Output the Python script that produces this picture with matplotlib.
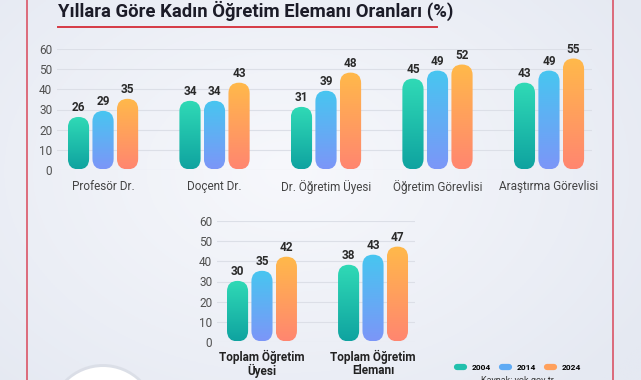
import numpy as np
import matplotlib
matplotlib.use("Agg")
import matplotlib.pyplot as plt
from matplotlib.patches import FancyBboxPatch, Circle
from matplotlib.lines import Line2D
from matplotlib.colors import to_rgb

plt.rcParams['font.family'] = ['Roboto', 'DejaVu Sans']

# data
years = ["2004", "2014", "2024"]
top_cats = ["Profesör Dr.", "Doçent Dr.", "Dr. Öğretim Üyesi", "Öğretim Görevlisi", "Araştırma Görevlisi"]
top_2004 = [26, 34, 31, 45, 43]
top_2014 = [29, 34, 39, 49, 49]
top_2024 = [35, 43, 48, 52, 55]
bot_cats = ["Toplam Öğretim\nÜyesi", "Toplam Öğretim\nElemanı"]
bot_2004 = [30, 38]
bot_2014 = [35, 43]
bot_2024 = [42, 47]
yticks = [0, 10, 20, 30, 40, 50, 60]

# gradient colours (bottom, top) per year
grads = [("#0fa3a0", "#30dab6"), ("#7c96f8", "#47c6f0"), ("#ff8670", "#ffb94a")]
legend_cols = ["#22c0ad", "#5eaaf4", "#ffa05c"]

W, H = 641, 380
fig = plt.figure(figsize=(W / 100, H / 100), dpi=100)

# background, in pixel coordinates
bg = fig.add_axes([0, 0, 1, 1], zorder=-10)
yy, xx = np.mgrid[0:1:200j, 0:1:340j]
d = np.sqrt(((xx - 0.45) * 1.2) ** 2 + ((yy - 0.45) * 1.0) ** 2)
d = np.clip(d / 0.8, 0, 1)
c_in = np.array(to_rgb("#f7f8fc"))
c_out = np.array(to_rgb("#e5e9f2"))
img = c_in[None, None, :] * (1 - d[..., None]) + c_out[None, None, :] * d[..., None]
bg.imshow(img, extent=[0, W, H, 0], aspect='auto')
bg.set_xlim(0, W)
bg.set_ylim(H, 0)
bg.axis('off')

# white circle bottom-left
bg.add_patch(Circle((103, 418), 54, facecolor="#cfd3dc", edgecolor='none', alpha=0.5))
bg.add_patch(Circle((103, 419), 52, facecolor="white", edgecolor='none'))


def grad_img(c0, c1):
    a = np.array(to_rgb(c0))
    b = np.array(to_rgb(c1))
    t = np.linspace(0, 1, 128)[:, None, None]
    return a * (1 - t) + b * t


def pill_bars(ax, n, series, xlim):
    x = np.arange(n)
    off = 0.22
    w = 0.19
    ax.set_xlim(*xlim)
    ax.set_ylim(0, 60)
    fig.canvas.draw()
    bb = ax.get_window_extent()
    px = bb.width / (xlim[1] - xlim[0])
    py = bb.height / 60.0
    asp = px / py
    for i, vals in enumerate(series):
        bars = ax.bar(x + (i - 1) * off, vals, width=w, alpha=0)
        for r, v in zip(bars.patches, vals):
            x0, bw, bh = r.get_x(), r.get_width(), r.get_height()
            p = FancyBboxPatch((x0, 0.3), bw, bh, boxstyle=f"round,pad=0,rounding_size={bw / 2}",
                               mutation_aspect=asp, facecolor='none', edgecolor='none')
            ax.add_patch(p)
            im = ax.imshow(grad_img(*grads[i]), extent=[x0, x0 + bw, 0.3, bh + 0.3],
                           origin='lower', aspect='auto', zorder=2)
            im.set_clip_path(p)
            ax.text(r.get_x() + bw / 2, v + 1.6, str(v), ha='center', va='bottom',
                    fontsize=8.5, fontweight='bold', color="#2a2a2a")
    ax.set_xlim(*xlim)
    ax.set_ylim(0, 60)
    ax.set_xticks(x)
    ax.set_yticks(yticks)
    ax.grid(axis='y', color="#dcdfe7", lw=0.8, zorder=0)
    ax.set_axisbelow(True)
    for s in ax.spines.values():
        s.set_visible(False)
    ax.patch.set_alpha(0)
    ax.tick_params(axis='both', length=0, labelsize=8.5, labelcolor="#505050")
    ax.tick_params(axis='y', pad=3.5)
    ax.tick_params(axis='x', pad=7.5)


ax1 = fig.add_axes([57 / W, 1 - 170 / H, (592 - 57) / W, 121 / H])
pill_bars(ax1, len(top_cats), [top_2004, top_2014, top_2024], (-0.413, 4.386))
ax1.set_xticklabels(top_cats, color="#444444")

ax2 = fig.add_axes([217 / W, 1 - 342 / H, (415 - 217) / W, 121 / H])
pill_bars(ax2, len(bot_cats), [bot_2004, bot_2014, bot_2024], (-0.405, 1.378))
ax2.tick_params(axis='x', pad=6)
ax2.set_xticklabels(bot_cats, fontweight='bold', color="#222222", linespacing=0.95)

# title and decorations
fig.text(58 / W, 1 - 17 / H, "Yıllara Göre Kadın Öğretim Elemanı Oranları (%)",
         fontsize=13.3, fontweight='bold', color="#1c1c28", va='baseline')
fig.add_artist(Line2D([58 / W, 437 / W], [1 - 27 / H] * 2, color="#d63a45", lw=1.4))
fig.add_artist(Line2D([27 / W, 27 / W], [0, 1], color="#d9475a", lw=1.1))
fig.add_artist(Line2D([613 / W, 613 / W], [0, 1], color="#d9475a", lw=1.1))

handles = [Line2D([0], [0], color=c, lw=4.5, solid_capstyle='round') for c in legend_cols]
fig.legend(handles, years, loc='center', bbox_to_anchor=(519 / W, 1 - 367 / H), ncol=3,
           frameon=False, handlelength=0.8, handletextpad=0.9, columnspacing=1.4,
           prop={'size': 6, 'weight': 'bold'})
fig.text(517 / W, 1 - 376 / H, "Kaynak: yok.gov.tr", ha='center', va='top',
         fontsize=6.5, color="#333333")

fig.savefig("out.png", dpi=100)
